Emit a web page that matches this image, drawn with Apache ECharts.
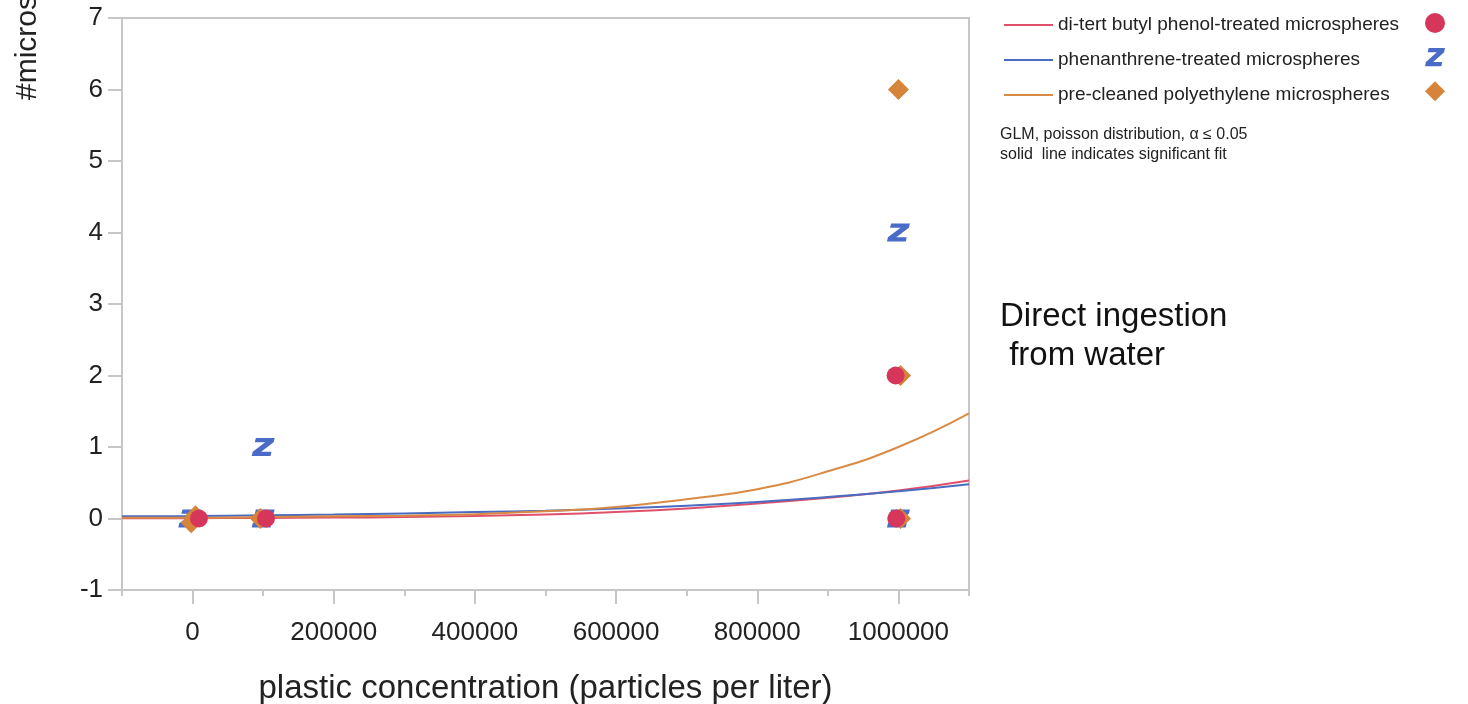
<!DOCTYPE html>
<html>
<head>
<meta charset="utf-8">
<script src="https://cdn.jsdelivr.net/npm/echarts@6/dist/echarts.min.js"></script>
<style>
  html, body { margin: 0; padding: 0; background: #fff; }
  #chart { width: 1468px; height: 704px; }
</style>
</head>
<body>
<div id="chart"></div>
<script>
// tick values
const xMajorTicks = [0, 200000, 400000, 600000, 800000, 1000000];
const xMinorTicks = [-100000, 100000, 300000, 500000, 700000, 900000, 1100000];

// observed counts (jittered around the 3 concentrations)
const phenolPoints = [[9000, 0], [104000, 0], [996000, 2], [997000, 0]];
const phenanthrenePoints = [[-4000, 0], [100000, 0], [100000, 1], [1000000, 4], [1000000, 0]];
const cleanPoints = [[-2000, -0.06], [4000, 0.04], [96000, 0], [1000000, 6], [1003000, 2], [1003000, 0]];

// fitted GLM curves
const fitX = [-100000, 0, 100000, 200000, 300000, 400000, 500000, 600000, 700000, 800000, 900000, 1000000, 1100000];
const phenolFit = [0.003, 0.005, 0.008, 0.013, 0.02, 0.035, 0.055, 0.09, 0.14, 0.21, 0.29, 0.39, 0.53];
const phenanthreneFit = [0.03, 0.035, 0.045, 0.055, 0.07, 0.09, 0.11, 0.14, 0.18, 0.23, 0.3, 0.38, 0.48];
const cleanFit = [0.01, 0.01, 0.02, 0.03, 0.04, 0.06, 0.1, 0.16, 0.27, 0.41, 0.66, 1.0, 1.47];

const names = [
  'di-tert butyl phenol-treated microspheres',
  'phenanthrene-treated microspheres',
  'pre-cleaned polyethylene microspheres'
];
const lineColors = ['#e0506a', '#4a6cc0', '#d98b45'];
const markColors = ['#d6365a', '#4a6cc8', '#d6843a'];
const zSymbol = 'path://M3,0 L21,0 L20,4.6 L8,15.4 L18,15.4 L17,20 L-1,20 L0,15.4 L12,4.6 L2,4.6 Z';

const font = '"Liberation Sans", Arial, Helvetica, sans-serif';
const pair = (xs, ys) => xs.map((x, i) => [x, ys[i]]);

const chart = echarts.init(document.getElementById('chart'));

const fitSeries = [phenolFit, phenanthreneFit, cleanFit].map((ys, i) => ({
  name: names[i],
  type: 'line',
  data: pair(fitX, ys),
  smooth: true,
  symbol: 'none',
  lineStyle: { color: lineColors[i], width: 2 },
  itemStyle: { color: lineColors[i] },
  z: 2
}));

const pointSeries = [
  { name: 'phenanthrene points', type: 'scatter', data: phenanthrenePoints, symbol: zSymbol, symbolSize: [23, 18], itemStyle: { color: markColors[1], opacity: 1 }, z: 3 },
  { name: 'clean points', type: 'scatter', data: cleanPoints, symbol: 'diamond', symbolSize: 21, itemStyle: { color: markColors[2], opacity: 1 }, z: 4 },
  { name: 'phenol points', type: 'scatter', data: phenolPoints, symbol: 'circle', symbolSize: 18, itemStyle: { color: markColors[0], opacity: 1 }, z: 5 }
];

chart.setOption({
  animation: false,
  textStyle: { fontFamily: font },
  grid: {
    left: 122, right: 499, top: 18, bottom: 114,
    outerBoundsMode: 'none',
    containLabel: false,
    show: true, borderColor: '#c6c6c6', borderWidth: 2
  },
  legend: [
    {
      data: names,
      orient: 'vertical',
      left: 1003, top: 15, padding: 0,
      itemWidth: 49, itemHeight: 14, itemGap: 15,
      selectedMode: false,
      itemStyle: { opacity: 0 },
      textStyle: { fontSize: 19, color: '#222', lineHeight: 20, fontFamily: font }
    },
    {
      data: ['phenol points', 'phenanthrene points', 'clean points'],
      orient: 'vertical',
      left: 1425, top: 13, padding: 0,
      itemWidth: 20, itemHeight: 20, itemGap: 15,
      selectedMode: false,
      formatter: () => '',
      textStyle: { fontSize: 1, lineHeight: 20 }
    }
  ],
  xAxis: [
    {
      type: 'value',
      min: -100000, max: 1100000,
      name: 'plastic concentration (particles per liter)',
      nameLocation: 'middle',
      nameGap: 82,
      nameTextStyle: { fontSize: 33, color: '#222', fontFamily: font },
      axisLine: { show: true, onZero: false, lineStyle: { color: '#c6c6c6', width: 2 } },
      axisTick: { show: true, length: 14, lineStyle: { color: '#c6c6c6', width: 2 }, customValues: xMajorTicks },
      axisLabel: { fontSize: 26, color: '#222', margin: 30, customValues: xMajorTicks, formatter: v => String(v) },
      splitLine: { show: false }
    },
    {
      type: 'value',
      position: 'bottom',
      min: -100000, max: 1100000,
      axisLine: { show: false, onZero: false },
      axisTick: { show: true, length: 6, lineStyle: { color: '#c6c6c6', width: 2 }, customValues: xMinorTicks },
      axisLabel: { show: false },
      splitLine: { show: false }
    }
  ],
  yAxis: {
    type: 'value',
    min: -1, max: 7, interval: 1,
    axisLine: { show: true, onZero: false, lineStyle: { color: '#c6c6c6', width: 2 } },
    axisTick: { show: true, length: 14, lineStyle: { color: '#c6c6c6', width: 2 } },
    axisLabel: { fontSize: 26, color: '#222', margin: 19 },
    splitLine: { show: false }
  },
  graphic: [
    {
      type: 'text', x: 28, y: 100, rotation: Math.PI / 2,
      style: { text: '#microspheres ingested', fontSize: 30, fill: '#222', textAlign: 'left', textVerticalAlign: 'middle', fontFamily: font }
    },
    {
      type: 'text', left: 1000, top: 297,
      style: { text: 'Direct ingestion\n from water', fontSize: 33, lineHeight: 39, fill: '#111', fontFamily: font }
    },
    {
      type: 'text', left: 1000, top: 125,
      style: { text: 'GLM, poisson distribution, \u03b1 \u2264 0.05\nsolid  line indicates significant fit', fontSize: 16, lineHeight: 20, fill: '#222', fontFamily: font }
    }
  ],
  series: fitSeries.concat(pointSeries)
});
</script>
</body>
</html>
